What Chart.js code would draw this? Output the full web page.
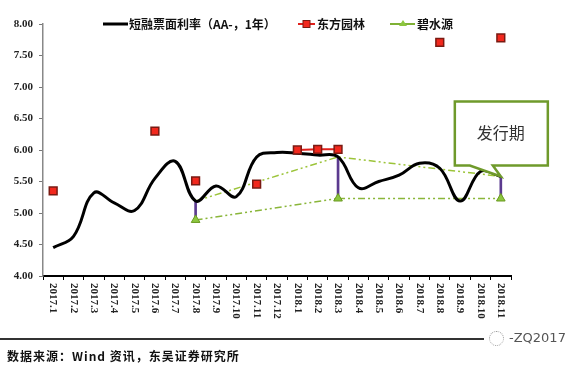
<!DOCTYPE html>
<html>
<head>
<meta charset="utf-8">
<script src="https://cdn.jsdelivr.net/npm/chart.js@4/dist/chart.umd.min.js"></script>
<style>
  html,body{margin:0;padding:0;background:#fff;}
  #wrap{position:relative;width:571px;height:367px;overflow:hidden;}
  canvas{position:absolute;left:0;top:0;}
  #rule{position:absolute;left:0;top:338px;width:484px;height:2px;background:#333;}
  #src{position:absolute;left:7px;top:347px;font:bold 12px "Noto Sans CJK SC",sans-serif;letter-spacing:1px;color:#111;white-space:nowrap;}
  #icon{position:absolute;left:489px;top:331px;width:13px;height:13px;border:1px dotted #999;border-radius:50%;}
  #wm{position:absolute;left:509px;top:330px;font:13px "DejaVu Sans",sans-serif;color:#555;white-space:nowrap;}
</style>
</head>
<body>
<div id="wrap">
  <canvas id="c" width="571" height="367"></canvas>
  <div id="rule"></div>
  <div id="src">数据来源：Wind 资讯，东吴证券研究所</div>
  <div id="icon"></div>
  <div id="wm">-ZQ2017</div>
</div>
<script>
const categories = ["2017.1","2017.2","2017.3","2017.4","2017.5","2017.6","2017.7","2017.8","2017.9","2017.10","2017.11","2017.12",
  "2018.1","2018.2","2018.3","2018.4","2018.5","2018.6","2018.7","2018.8","2018.9","2018.10","2018.11"];
const seriesNames = ["短融票面利率（AA-，1年）","东方园林","碧水源"];
const yieldAA = [4.45,4.63,5.32,5.16,5.04,5.55,5.82,5.19,5.43,5.26,5.89,5.96,5.95,5.92,5.89,5.40,5.50,5.60,5.79,5.71,5.19,5.66,5.58];
const dongfang = [5.35,null,null,null,null,6.30,null,5.51,null,null,5.46,null,6.00,6.01,6.01,null,null,null,null,7.71,null,null,7.78];
const bishui = [null,null,null,null,null,null,null,4.89,null,null,null,null,null,null,5.23,null,null,null,null,null,null,null,5.23];
const bishuiTop = [null,null,null,null,null,null,null,5.19,null,null,null,null,null,null,5.89,null,null,null,null,null,null,null,5.58];
const spreadBars = [null,null,null,null,null,null,null,[4.89,5.19],null,null,null,null,null,null,[5.23,5.89],null,null,null,null,null,null,null,[5.23,5.58]];
const yTicks = [4.00,4.50,5.00,5.50,6.00,6.50,7.00,7.50,8.00];
const calloutIndex = 22;
const calloutText = "发行期";

const extras = {
  id:'extras',
  afterDraw(chart){
    const ctx = chart.ctx, xs = chart.scales.x, ys = chart.scales.y;
    // x labels rotated clockwise
    ctx.save();
    ctx.font = 'bold 11px "Liberation Serif", serif';
    ctx.fillStyle = '#222';
    ctx.textAlign = 'left'; ctx.textBaseline = 'middle';
    categories.forEach((c,i)=>{
      const x = xs.getPixelForValue(i);
      ctx.save();
      ctx.translate(x, ys.bottom + 7);
      ctx.rotate(Math.PI/2);
      ctx.fillText(c, 0, 0);
      ctx.restore();
    });
    ctx.restore();

    // legend
    ctx.save();
    const ly = 24;
    ctx.font = 'bold 12px "Noto Sans CJK SC", sans-serif';
    ctx.fillStyle = '#111'; ctx.textBaseline = 'middle'; ctx.textAlign='left';
    // item 1
    ctx.strokeStyle = '#000'; ctx.lineWidth = 3;
    ctx.beginPath(); ctx.moveTo(103,ly); ctx.lineTo(128,ly); ctx.stroke();
    ctx.fillText(seriesNames[0], 129, ly);
    // item 2
    ctx.strokeStyle = '#e0201b'; ctx.lineWidth = 2;
    ctx.beginPath(); ctx.moveTo(298,ly); ctx.lineTo(315,ly); ctx.stroke();
    ctx.fillStyle = '#f2281d'; ctx.fillRect(303,ly-3.5,7,7);
    ctx.strokeStyle = '#7a1a12'; ctx.lineWidth = 1; ctx.strokeRect(303,ly-3.5,7,7);
    ctx.fillStyle = '#111';
    ctx.fillText(seriesNames[1], 317, ly);
    // item 3
    ctx.strokeStyle = '#7fb135'; ctx.lineWidth = 2;
    ctx.beginPath(); ctx.moveTo(390,ly); ctx.lineTo(415,ly); ctx.stroke();
    ctx.fillStyle = '#8cc63f';
    ctx.beginPath(); ctx.moveTo(403,ly-4); ctx.lineTo(407,ly+2); ctx.lineTo(399,ly+2); ctx.closePath(); ctx.fill();
    ctx.fillStyle = '#111';
    ctx.fillText(seriesNames[2], 417, ly);
    ctx.restore();

    // callout
    const tx = xs.getPixelForValue(calloutIndex);
    const ty = ys.getPixelForValue(yieldAA[calloutIndex]);
    const L = tx-46, R = tx+47, T = ty-75, B = ty-11;
    ctx.save();
    ctx.beginPath();
    ctx.moveTo(L,T); ctx.lineTo(R,T); ctx.lineTo(R,B);
    ctx.lineTo(tx-8,B); ctx.lineTo(tx,ty); ctx.lineTo(tx-31,B);
    ctx.lineTo(L,B); ctx.closePath();
    ctx.fillStyle = '#fff'; ctx.fill();
    ctx.strokeStyle = '#6f9a2b'; ctx.lineWidth = 2.5; ctx.lineJoin='miter';
    ctx.stroke();
    ctx.fillStyle = '#333';
    ctx.font = '16px "Noto Sans CJK SC", sans-serif';
    ctx.textAlign = 'center'; ctx.textBaseline = 'middle';
    ctx.fillText(calloutText, tx, T+31);
    ctx.restore();
  }
};

new Chart(document.getElementById('c'), {
  data: {
    labels: categories,
    datasets: [
      { type:'bar', label:'spread', data: spreadBars, backgroundColor:'#5b3a8f', barThickness:2, order:6 },
      { type:'line', label:'top', data: bishuiTop, spanGaps:true, borderColor:'#9cc43a', borderWidth:1.5,
        borderDash:[7,3,2,3,2,3], pointRadius:0, tension:0, order:5 },
      { type:'line', label: seriesNames[2], data: bishui, spanGaps:true, borderColor:'#8ab63a', borderWidth:1.5,
        borderDash:[7,3,2,3,2,3], pointStyle:'triangle', pointRadius:5, pointBackgroundColor:'#8cc63f',
        pointBorderColor:'#6a9a20', pointBorderWidth:1, tension:0, order:4,
        segment:{ borderColor: c => c.p0DataIndex===14 ? '#5d9130' : undefined,
                  borderDash: c => c.p0DataIndex===14 ? [12,4,2,4] : undefined } },
      { type:'line', label: seriesNames[0], data: yieldAA, borderColor:'#000', borderWidth:3, pointRadius:0,
        tension:0.4, order:2 },
      { type:'line', label: seriesNames[1], data: dongfang, spanGaps:false, borderColor:'#e0201b', borderWidth:2,
        pointStyle:'rect', pointRadius:5.5, pointBackgroundColor:'#f2281d', pointBorderColor:'#7a1a12',
        pointBorderWidth:1.5, tension:0, order:1 }
    ]
  },
  options: {
    responsive:false, animation:false, devicePixelRatio:1,
    layout:{ padding:{ left:0, top:24, right:60, bottom:0 } },
    plugins:{ legend:{display:false}, tooltip:{enabled:false} },
    scales:{
      x:{ type:'category', offset:true,
          grid:{ display:true, drawOnChartArea:false, drawTicks:true, tickLength:4, color:'#000', offset:true },
          border:{ color:'#000', width:2 },
          ticks:{ display:false },
          afterFit: s => { s.height = 91; } },
      y:{ type:'linear', min:4, max:8,
          afterBuildTicks: s => { s.ticks = yTicks.map(v=>({value:v})); },
          ticks:{ callback: v => Number(v).toFixed(2), font:{ family:'"Liberation Serif", serif', size:11, weight:'bold' },
                  color:'#222', padding:6 },
          grid:{ drawOnChartArea:false, tickLength:4, color:'#777' },
          border:{ color:'#888', width:1.5 },
          afterFit: s => { s.width = 43; } }
    }
  },
  plugins:[extras]
});
</script>
</body>
</html>
